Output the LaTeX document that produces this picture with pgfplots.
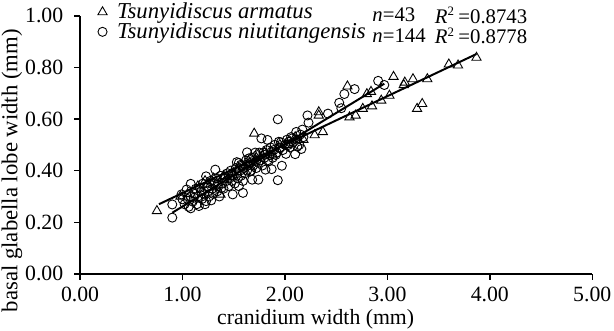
\documentclass[border=0pt]{standalone}
\usepackage{fontspec}
\setmainfont{Liberation Serif}
\usepackage{pgfplots}
\pgfplotsset{compat=1.18}
\usepackage{pgfplotstable}
\pgfplotstableread{
x y
0.75 0.244
0.98 0.30
1.05 0.31
1.15 0.34
1.22 0.36
1.25 0.35
1.30 0.37
1.37 0.308
1.40 0.38
1.48 0.39
1.55 0.41
1.62 0.43
1.70 0.544
1.72 0.45
1.80 0.47
1.88 0.46
1.95 0.50
2.02 0.50
2.10 0.53
2.18 0.52
2.29 0.538
2.33 0.614
2.33 0.627
2.37 0.550
2.61 0.727
2.63 0.607
2.69 0.614
2.76 0.640
2.80 0.697
2.84 0.706
2.85 0.650
2.94 0.672
3.02 0.691
3.06 0.764
3.16 0.732
3.17 0.742
3.25 0.755
3.29 0.640
3.34 0.659
3.39 0.755
3.60 0.812
3.69 0.808
3.87 0.838
}\armatus
\pgfplotstableread{
x y
0.90 0.218
0.90 0.269
1.08 0.254
1.08 0.349
1.23 0.378
1.32 0.404
1.49 0.308
1.59 0.314
1.63 0.471
1.74 0.365
1.68 0.365
1.77 0.525
1.83 0.519
1.93 0.599
1.93 0.363
1.97 0.419
1.87 0.406
2.01 0.465
1.94 0.512
2.10 0.464
2.16 0.484
2.11 0.550
2.17 0.559
2.22 0.614
2.23 0.586
2.42 0.621
2.53 0.663
2.55 0.642
2.58 0.697
2.68 0.716
2.91 0.748
2.97 0.732
2.07 0.525
2.03 0.499
1.84 0.436
1.81 0.404
1.71 0.470
1.66 0.397
1.53 0.433
1.55 0.340
1.38 0.333
1.28 0.285
1.16 0.263
1.17 0.333
1.00 0.289
0.99 0.308
1.04 0.327
1.11 0.295
1.23 0.282
1.34 0.346
1.42 0.372
1.49 0.384
1.57 0.423
1.65 0.448
1.72 0.436
1.80 0.461
1.87 0.474
1.95 0.487
2.04 0.512
2.12 0.493
1.91 0.461
1.02 0.27
1.05 0.29
1.06 0.26
1.08 0.30
1.10 0.28
1.12 0.31
1.13 0.33
1.14 0.27
1.15 0.30
1.18 0.32
1.19 0.29
1.20 0.35
1.21 0.31
1.22 0.27
1.24 0.34
1.25 0.32
1.26 0.30
1.27 0.36
1.29 0.33
1.30 0.31
1.31 0.35
1.33 0.37
1.34 0.32
1.35 0.34
1.36 0.30
1.37 0.38
1.39 0.35
1.40 0.33
1.41 0.37
1.43 0.36
1.44 0.39
1.45 0.34
1.46 0.37
1.47 0.40
1.48 0.36
1.50 0.38
1.51 0.35
1.52 0.41
1.53 0.39
1.54 0.37
1.55 0.43
1.56 0.40
1.57 0.38
1.58 0.42
1.59 0.36
1.60 0.41
1.61 0.39
1.62 0.44
1.63 0.40
1.64 0.42
1.66 0.43
1.67 0.40
1.68 0.45
1.69 0.42
1.70 0.44
1.72 0.41
1.73 0.46
1.74 0.43
1.75 0.47
1.76 0.44
1.78 0.42
1.79 0.47
1.80 0.45
1.82 0.48
1.83 0.44
1.85 0.46
1.86 0.49
1.88 0.45
1.89 0.48
1.90 0.50
1.92 0.47
1.95 0.49
1.96 0.51
1.98 0.48
2.00 0.50
2.02 0.52
2.05 0.49
2.06 0.53
2.08 0.51
2.12 0.52
2.14 0.50
2.15 0.54
2.18 0.53
}\niutit
\newcommand{\sq}{\textsuperscript{\fontsize{6.5}{7}\selectfont 2}}
\begin{document}
\begin{tikzpicture}
\begin{axis}[
  scale only axis,
  width=259pt, height=130.5pt,
  xmin=0, xmax=5, ymin=0, ymax=1,
  axis lines*=left,
  axis line style={line width=0.8pt},
  tick align=outside,
  major tick length=3pt,
  tick style={line width=0.7pt, black},
  xtick={0,1,2,3,4,5},
  ytick={0,0.2,0.4,0.6,0.8,1},
  /pgf/number format/.cd, fixed, fixed zerofill, precision=2, assume math mode=true,
  /pgfplots/.cd,
  tick label style={font=\fontsize{11}{12}\selectfont},
  yticklabel style={xshift=-2pt},
  xlabel={cranidium width (mm)},
  ylabel={basal glabella lobe width (mm)},
  xlabel style={font=\fontsize{11}{13}\selectfont, at={(axis description cs:0.46,-0.176)}, anchor=center},
  ylabel style={font=\fontsize{11.5}{13}\selectfont, at={(axis description cs:-0.133,0.40)}, anchor=center},
  clip=false,
  legend style={at={(axis cs:0.17,1.06)}, anchor=north west, draw=none, fill=none,
    font=\fontsize{11.5}{12}\selectfont\itshape, row sep=-1.5pt, inner sep=0pt,
    nodes={inner sep=1pt},
    /tikz/every odd column/.append style={column sep=4pt}},
  legend cell align=left,
]
\addplot[only marks, mark=triangle, mark size=2.7pt, mark options={line width=0.45pt, draw=black, fill=none}] table {\armatus};
\addlegendentry{Tsunyidiscus armatus}
\addplot[only marks, mark=o, mark size=2.3pt, mark options={line width=0.45pt, draw=black}] table {\niutit};
\addlegendentry{Tsunyidiscus niutitangensis}
\addplot[black, line width=1pt, forget plot] coordinates {(0.77,0.270) (3.87,0.852)};
\addplot[black, line width=1pt, forget plot] coordinates {(0.90,0.237) (2.97,0.737)};
\node[anchor=west, font=\fontsize{10.5}{12}\selectfont, inner sep=0pt] at (axis cs:2.85,1.003) {\textit{n}=43};
\node[anchor=west, font=\fontsize{10.5}{12}\selectfont, inner sep=0pt] at (axis cs:3.46,1.003) {\textit{R}\sq\,=0.8743};
\node[anchor=west, font=\fontsize{10.5}{12}\selectfont, inner sep=0pt] at (axis cs:2.85,0.922) {\textit{n}=144};
\node[anchor=west, font=\fontsize{10.5}{12}\selectfont, inner sep=0pt] at (axis cs:3.46,0.922) {\textit{R}\sq\,=0.8778};
\coordinate (BL) at (rel axis cs:0,0);
\end{axis}
\pgfresetboundingbox
\path[use as bounding box] ([shift={(-40.5pt,-28.5pt)}]BL) rectangle ([shift={(270pt,138.5pt)}]BL);
\end{tikzpicture}
\end{document}
